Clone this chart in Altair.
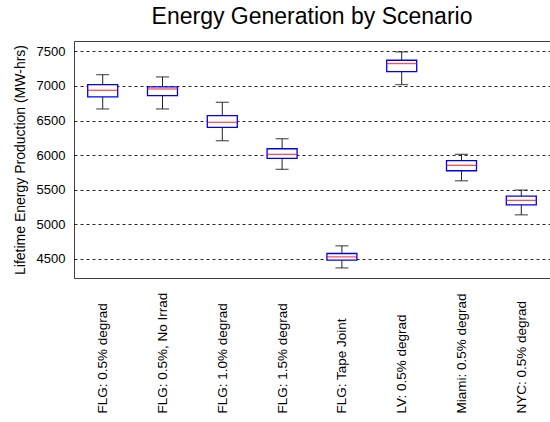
import altair as alt
import pandas as pd

categories = ["FLG: 0.5% degrad", "FLG: 0.5%, No Irrad", "FLG: 1.0% degrad",
              "FLG: 1.5% degrad", "FLG: Tape Joint", "LV: 0.5% degrad",
              "Miami: 0.5% degrad", "NYC: 0.5% degrad"]
whisker_low = [6668, 6668, 6209, 5795, 4371, 7020, 5630, 5138]
q1 = [6842, 6861, 6403, 5954, 4483, 7208, 5775, 5283]
median = [6938, 6957, 6475, 6012, 4531, 7324, 5853, 5347]
q3 = [7020, 6986, 6571, 6093, 4579, 7372, 5920, 5409]
whisker_high = [7164, 7131, 6764, 6238, 4690, 7493, 6012, 5496]
y_ticks = [4500, 5000, 5500, 6000, 6500, 7000, 7500]

df = pd.DataFrame({"cat": categories, "lo": whisker_low, "q1": q1,
                   "med": median, "q3": q3, "hi": whisker_high})

FONT = "Liberation Sans"
xscale = alt.Scale(type="point", padding=0.48, domain=categories)
yscale = alt.Scale(domain=[4225, 7650], nice=False, zero=False)

x_axis = alt.Axis(title=None, labelAngle=270, labelAlign="left",
                  labelBaseline="middle", labelPadding=135,
                  labelFontSize=13.5, labelFont=FONT, labelColor="#000",
                  ticks=False, domain=False, grid=False, labelOverlap=False)
y_axis = alt.Axis(title="Lifetime Energy Production (MW-hrs)",
                  titleFont=FONT, titleFontSize=14, titleFontWeight="normal",
                  titleColor="#000", titlePadding=9, format="d",
                  values=y_ticks, labelFont=FONT, labelFontSize=13,
                  labelColor="#000", labelPadding=9, ticks=False,
                  domain=False, grid=True, gridColor="#000",
                  gridDash=[3, 3], gridOpacity=0.85)


def X():
    return alt.X("cat:N", sort=None, scale=xscale, axis=x_axis)


def Y(field):
    return alt.Y(field, scale=yscale, axis=y_axis)


base = alt.Chart(df)

whisk = base.mark_rule(color="#222", strokeWidth=1).encode(
    x=X(), y=Y("lo:Q"), y2="hi:Q")
box = base.mark_bar(size=30, fill="white", stroke="#0000ff", strokeWidth=1.3).encode(
    x=X(), y=Y("q1:Q"), y2="q3:Q")
med = base.mark_tick(size=30, color="#ff0000", thickness=1.3).encode(
    x=X(), y=Y("med:Q"))
cap_lo = base.mark_tick(size=13, color="#222", thickness=1.3).encode(
    x=X(), y=Y("lo:Q"))
cap_hi = base.mark_tick(size=13, color="#222", thickness=1.3).encode(
    x=X(), y=Y("hi:Q"))

chart = alt.layer(whisk, box, med, cap_lo, cap_hi).properties(
    width=476, height=237,
    autosize=alt.AutoSizeParams(type="none"),
    padding={"left": 74, "top": 41, "right": 0, "bottom": 144},
    title=alt.TitleParams("Energy Generation by Scenario", font=FONT, fontSize=23,
                          fontWeight="normal", color="#000", anchor="middle",
                          baseline="alphabetic", offset=-6),
    background="white"
).configure_view(stroke="#404040", strokeWidth=1)

chart.save("out.html", embed_options={"renderer": "svg", "actions": False})
